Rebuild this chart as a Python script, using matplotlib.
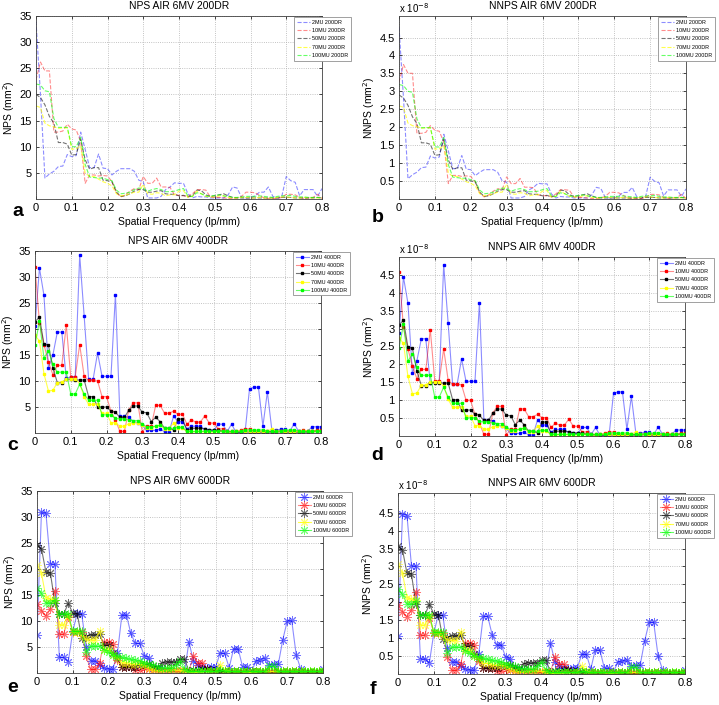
import numpy as np
import matplotlib
matplotlib.use("Agg")
import matplotlib.pyplot as plt

plt.rcParams['font.family'] = ['Liberation Sans', 'DejaVu Sans']

# spatial frequency sampling (lp/mm), 65 samples 0..0.8
freq = np.linspace(0, 0.8, 65)
mu_labels = ["2MU", "10MU", "50MU", "70MU", "100MU"]

# NPS (mm^2), 200DR
a_2mu = [34, 20, 4.0, 4.8, 5.3, 6.2, 6.3, 8.5, 8.1, 8.3, 12.8, 9.5, 6.0,
         6.0, 8.6, 5.9, 5.8, 4.6, 5.3, 5.8, 5.8, 5.8, 5.3, 3.6, 3.3, 0.2,
         0.2, 0.2, 0.5, 1.8, 2.3, 3.1, 3.0, 3.0, 1.0, 0.2, 0.5, 0.4, 0.4,
         0.2, 0.2, 0.2, 0.2, 0.8, 2.3, 2.1, 0.3, 0.2, 0.2, 0.6, 1.3, 1.3,
         2.3, 0.5, 0.2, 0.5, 4.3, 3.5, 3.2, 0.6, 1.8, 1.8, 1.8, 0.5, 2.0]
a_10mu = [22.8, 26.2, 24.5, 24.5, 12.8, 12.8, 13.0, 14.3, 13.4, 13.2, 11.0, 3.0, 4.6,
          4.6, 4.4, 4.5, 4.4, 3.3, 1.2, 0.4, 0.8, 1.5, 2.0, 1.8, 4.3, 3.0,
          3.0, 4.0, 2.3, 2.3, 2.2, 0.8, 0.7, 0.6, 0.5, 1.0, 1.8, 1.8, 1.7,
          0.4, 0.3, 0.3, 0.2, 0.1, 0.1, 0.2, 0.5, 1.3, 1.3, 1.2, 0.7, 0.2,
          0.1, 0.1, 0.1, 0.3, 0.9, 0.9, 0.8, 0.3, 0.1, 0.2, 0.3, 0.9, 0.1]
a_50mu = [20.0, 19.4, 18.0, 15.8, 14.5, 10.8, 10.8, 10.5, 8.4, 8.5, 11.5, 7.5, 5.7,
          6.0, 6.0, 3.6, 3.5, 3.3, 1.3, 0.5, 0.6, 1.0, 1.5, 1.8, 1.8, 1.3,
          1.3, 1.5, 1.6, 1.0, 0.9, 0.9, 0.6, 0.7, 0.4, 0.6, 1.7, 1.6, 0.8,
          0.5, 0.6, 0.8, 1.0, 0.6, 0.3, 0.2, 0.2, 0.2, 0.2, 0.2, 0.2, 0.2,
          0.2, 0.2, 0.2, 0.3, 0.3, 0.3, 0.2, 0.2, 0.2, 0.2, 0.2, 0.3, 0.2]
a_70mu = [17.8, 17.5, 14.5, 14.0, 13.8, 13.5, 13.6, 13.6, 9.5, 9.6, 10.2, 5.0, 4.3,
          4.3, 3.8, 3.3, 3.0, 2.5, 1.0, 0.6, 0.7, 1.0, 1.3, 1.3, 2.8, 1.0,
          0.9, 1.2, 1.1, 0.6, 0.8, 0.8, 1.5, 1.6, 0.3, 0.5, 1.5, 1.0, 0.5,
          0.4, 0.4, 0.6, 0.6, 0.3, 0.2, 0.2, 0.3, 0.3, 0.2, 0.2, 0.3, 0.2,
          0.2, 0.2, 0.3, 0.4, 0.4, 0.3, 0.2, 0.2, 0.3, 0.2, 0.2, 0.2, 0.2]
a_100mu = [22.0, 21.8, 20.7, 20.5, 15.4, 13.7, 13.7, 13.7, 10.0, 10.0, 11.8, 6.6, 4.2,
           4.1, 4.0, 4.0, 3.7, 3.5, 1.7, 1.0, 1.1, 1.3, 1.8, 2.1, 2.0, 1.5,
           1.8, 2.0, 1.8, 1.4, 1.4, 1.5, 1.8, 2.0, 0.6, 0.5, 1.2, 1.0, 0.6,
           0.5, 0.7, 0.8, 0.6, 0.5, 0.3, 0.3, 0.4, 0.5, 0.5, 0.5, 0.6, 0.5,
           0.4, 0.3, 0.5, 0.6, 0.6, 0.7, 0.5, 0.4, 0.4, 0.3, 0.3, 0.3, 0.2]

# NPS (mm^2), 400DR
c_2mu = [20.6, 31.7, 26.5, 12.5, 15.0, 19.4, 19.4, 10.5, 10.8, 10.8, 34.2, 22.5, 10.3,
         10.3, 15.4, 10.9, 10.9, 10.9, 26.6, 3.2, 3.2, 3.0, 2.2, 2.0, 1.5, 0.5,
         0.5, 0.5, 0.8, 0.2, 0.2, 3.2, 2.2, 2.2, 0.8, 1.3, 1.3, 1.3, 0.7,
         0.5, 0.5, 1.7, 1.7, 0.3, 1.7, 0.1, 0.1, 0.1, 8.5, 8.8, 8.8, 1.3,
         7.9, 0.6, 0.6, 0.7, 0.7, 0.3, 1.8, 0.3, 0.3, 0.3, 1.2, 1.2, 1.2]
c_10mu = [32.0, 21.2, 17.0, 13.7, 11.2, 13.0, 13.0, 20.8, 10.8, 10.8, 17.0, 10.9, 10.1,
          10.1, 10.0, 7.0, 7.0, 4.2, 2.5, 0.3, 0.3, 4.5, 5.8, 5.8, 0.2, 1.3,
          1.3, 5.3, 5.3, 3.8, 3.8, 4.2, 3.6, 3.6, 1.7, 2.5, 2.1, 2.1, 3.3,
          1.9, 1.9, 0.8, 0.8, 0.3, 0.3, 0.3, 0.5, 0.8, 0.8, 0.3, 0.3, 0.4,
          0.3, 0.3, 0.4, 0.3, 0.3, 0.3, 0.3, 0.3, 0.5, 0.4, 0.4, 0.5, 0.5]
c_50mu = [21.4, 22.3, 17.1, 16.9, 12.5, 9.7, 9.7, 10.3, 10.3, 10.2, 10.2, 10.2, 7.0,
          7.0, 5.0, 5.0, 5.0, 4.2, 4.0, 3.0, 3.0, 4.4, 5.2, 5.2, 4.0, 3.9,
          2.2, 3.0, 2.2, 0.9, 0.9, 0.6, 2.7, 2.7, 0.5, 0.9, 0.9, 0.9, 0.8,
          0.6, 0.6, 0.5, 0.4, 0.2, 0.2, 0.2, 0.2, 0.3, 0.2, 0.2, 0.2, 0.2,
          0.2, 0.2, 0.2, 0.3, 0.2, 0.2, 0.2, 0.2, 0.2, 0.2, 0.3, 0.3, 0.3]
c_70mu = [18.8, 17.7, 11.4, 8.1, 8.2, 9.7, 9.8, 10.3, 10.4, 10.4, 9.5, 7.0, 5.5,
          5.5, 5.5, 3.8, 3.8, 2.0, 2.0, 1.3, 1.3, 1.8, 2.0, 2.0, 1.5, 1.0,
          1.0, 1.3, 1.5, 0.8, 0.8, 1.9, 1.0, 1.0, 0.2, 0.2, 0.3, 0.3, 0.2,
          0.2, 0.2, 0.3, 0.3, 0.2, 0.2, 0.3, 0.3, 0.4, 0.3, 0.3, 0.3, 0.3,
          0.3, 0.8, 0.3, 0.3, 0.4, 0.3, 0.3, 0.3, 0.4, 0.4, 0.3, 0.3, 0.3]
c_100mu = [16.9, 21.5, 14.4, 15.8, 13.2, 11.7, 11.7, 11.7, 7.5, 7.5, 9.4, 7.5, 6.3,
           6.3, 6.3, 3.5, 3.5, 3.5, 2.8, 2.7, 2.7, 2.5, 2.4, 2.4, 1.7, 1.2,
           1.2, 1.3, 1.5, 1.0, 0.9, 0.9, 1.1, 1.1, 0.3, 0.3, 0.3, 0.3, 0.3,
           0.3, 0.3, 0.3, 0.3, 0.3, 0.3, 0.3, 0.3, 0.5, 0.6, 0.5, 0.6, 0.6,
           0.3, 0.3, 0.3, 0.4, 0.5, 0.6, 0.6, 0.4, 0.3, 0.3, 0.3, 0.3, 0.3]

# NPS (mm^2), 600DR
e_2mu = [7.4, 31.0, 30.7, 21.0, 21.0, 3.0, 3.0, 2.2, 8.0, 11.5, 11.4, 5.0, 2.4,
         2.4, 1.5, 1.0, 0.8, 0.8, 3.8, 11.2, 11.2, 7.6, 5.7, 5.7, 3.3, 2.9,
         1.0, 0.7, 0.7, 0.6, 0.6, 0.5, 0.1, 0.1, 6.0, 2.3, 1.5, 1.2, 1.0,
         1.2, 1.2, 3.9, 3.8, 1.0, 4.7, 4.7, 1.2, 1.2, 0.3, 2.3, 2.5, 2.8,
         1.6, 1.7, 1.7, 6.4, 10.0, 10.1, 3.5, 0.8, 0.2, 0.2, 0.2, 0.2, 0.8]
e_10mu = [13.2, 12.0, 11.0, 12.3, 15.8, 7.5, 7.5, 10.8, 7.9, 7.9, 7.9, 3.3, 0.7,
          0.7, 2.0, 5.9, 6.0, 5.6, 2.5, 1.2, 1.2, 1.2, 0.6, 0.6, 1.0, 0.8,
          0.5, 0.3, 0.3, 0.4, 0.4, 0.3, 0.3, 0.4, 0.4, 3.3, 1.9, 1.9, 0.8,
          0.3, 0.3, 0.3, 0.2, 0.3, 0.3, 0.2, 0.2, 0.3, 0.3, 0.4, 0.4, 0.3,
          0.3, 0.2, 0.2, 0.3, 0.3, 0.4, 0.3, 0.3, 0.2, 0.2, 0.2, 0.2, 0.2]
e_50mu = [24.7, 23.9, 19.4, 19.2, 13.5, 11.4, 11.4, 13.4, 11.5, 11.4, 6.8, 7.0, 7.4,
          7.4, 7.5, 5.3, 5.4, 3.8, 2.8, 1.2, 1.2, 1.2, 1.2, 1.5, 1.5, 1.8,
          1.3, 1.0, 2.0, 2.2, 2.2, 2.2, 2.7, 2.7, 0.4, 0.5, 0.6, 0.8, 0.8,
          0.5, 0.5, 0.3, 0.3, 0.2, 0.2, 0.3, 0.2, 0.2, 0.2, 0.2, 0.2, 0.2,
          0.2, 0.3, 0.2, 0.2, 0.2, 0.2, 0.2, 0.2, 0.2, 0.2, 0.2, 0.2, 0.2]
e_70mu = [20.8, 19.2, 14.5, 14.2, 14.0, 9.3, 9.3, 11.0, 7.8, 7.8, 7.2, 6.5, 6.4,
          6.3, 8.0, 4.5, 4.6, 3.5, 2.9, 2.0, 2.0, 1.8, 1.7, 1.7, 1.5, 1.0,
          0.6, 0.4, 0.4, 0.5, 0.6, 0.6, 0.5, 0.4, 0.2, 0.2, 0.2, 0.3, 0.3,
          0.3, 0.3, 1.5, 0.5, 0.3, 0.3, 0.3, 0.3, 0.2, 0.2, 0.3, 0.3, 0.3,
          0.3, 0.3, 0.3, 0.3, 0.3, 0.3, 0.3, 0.3, 0.3, 0.3, 0.3, 0.3, 0.3]
e_100mu = [16.3, 15.3, 13.5, 13.5, 14.0, 11.3, 11.4, 11.4, 8.0, 8.0, 8.0, 4.0, 5.2,
           5.2, 5.2, 4.5, 4.0, 3.5, 3.3, 3.0, 2.8, 2.6, 2.5, 2.3, 2.0, 1.8,
           1.5, 1.2, 1.0, 1.0, 0.9, 1.5, 2.3, 0.8, 0.3, 0.3, 0.3, 0.3, 0.3,
           0.3, 0.3, 0.5, 0.4, 0.3, 0.3, 0.3, 0.3, 0.3, 0.3, 0.3, 0.3, 0.3,
           1.3, 1.3, 0.3, 0.3, 0.3, 0.3, 0.3, 0.3, 0.3, 0.3, 0.3, 0.3, 0.3]

# NNPS = NPS / mean^2, factors (x1e-8 per mm^2 of NPS)
norm_200 = [0.141, 0.143, 0.145, 0.146, 0.145]
norm_400 = [0.140, 0.143, 0.145, 0.146, 0.145]
norm_600 = [0.144, 0.145, 0.145, 0.147, 0.145]

nps_200 = [a_2mu, a_10mu, a_50mu, a_70mu, a_100mu]
nps_400 = [c_2mu, c_10mu, c_50mu, c_70mu, c_100mu]
nps_600 = [e_2mu, e_10mu, e_50mu, e_70mu, e_100mu]

colors = ['#0000ff', '#ff0000', '#000000', '#ffff00', '#00ff00']
line_alpha = [0.45, 0.45, 0.55, 0.7, 0.6]

W, H = 719, 705
fig = plt.figure(figsize=(W / 100, H / 100), dpi=100)


def add_ax(l, t, r, b):
    return fig.add_axes([l / W, 1 - b / H, (r - l) / W, (b - t) / H])


panels = [
    # (box px, dose rate, data, normalized?, style, letter, letter pos, ylim)
    ((36, 16, 322, 199), "200DR", nps_200, None, 'dash', 'a', (18, 212), 35),
    ((399, 16, 686, 199), "200DR", nps_200, norm_200, 'dash', 'b', (378, 218), 5.1),
    ((35, 251, 321, 433), "400DR", nps_400, None, 'dot', 'c', (13, 446), 35),
    ((399, 257, 685, 436), "400DR", nps_400, norm_400, 'dot', 'd', (377, 455), 5.0),
    ((37, 491, 323, 673), "600DR", nps_600, None, 'star', 'e', (13, 688), 35),
    ((398, 493, 685, 674), "600DR", nps_600, norm_600, 'star', 'f', (373, 690), 5.05),
]

for box, dr, data, norm, style, letter, lpos, ytop in panels:
    ax = add_ax(*box)
    for k in range(5):
        y = np.array(data[k])
        if norm is not None:
            y = y * norm[k]
        lab = f"{mu_labels[k]} {dr}"
        c = colors[k]
        lc = matplotlib.colors.to_rgba(c, line_alpha[k])
        if style == 'dash':
            ax.plot(freq, y, '--', color=lc, lw=0.8, label=lab)
        elif style == 'dot':
            ax.plot(freq, y, '-', color=lc, lw=0.8, marker='s', ms=1.5,
                    mfc=c, mec=c, label=lab)
        else:
            mc = matplotlib.colors.to_rgba(c, 0.55)
            ax.plot(freq, y, '-', color=lc, lw=0.8, marker=(8, 2, 0), ms=6.5,
                    mfc=mc, mec=mc, mew=0.7, label=lab)

    ax.set_xlim(0, 0.8)
    ax.set_ylim(0, ytop)
    xt = np.arange(0, 0.81, 0.1)
    ax.set_xticks(xt)
    ax.set_xticklabels(['%g' % round(v, 1) for v in xt])
    if norm is None:
        yt = np.arange(5, 36, 5)
        ax.set_ylabel("NPS (mm$^2$)", fontsize=7.5, labelpad=2)
        ax.set_title(f"NPS AIR 6MV {dr}", fontsize=7.5, pad=5)
    else:
        yt = np.arange(0.5, 4.6, 0.5)
        ax.set_ylabel("NNPS (mm$^2$)", fontsize=7.5, labelpad=2)
        ax.set_title(f"NNPS AIR 6MV {dr}", fontsize=7.5, pad=5)
        ax.text(0, 1.005, r"x 10$^{-8}$", transform=ax.transAxes,
                fontsize=7, va='bottom', ha='left')
    ax.set_yticks(yt)
    ax.set_yticklabels(['%g' % v for v in yt])
    ax.set_xlabel("Spatial Frequency (lp/mm)", fontsize=7.5, labelpad=3)
    ax.tick_params(direction='in', labelsize=8, length=2, width=0.5,
                   top=True, right=True, pad=3)
    ax.grid(True, linestyle=':', color='#b0b0b0', lw=0.6)
    for s in ax.spines.values():
        s.set_linewidth(0.6)
        s.set_color('#404040')
    leg = ax.legend(loc='upper left', bbox_to_anchor=(0.9, 1.0), fontsize=3.9,
                    handlelength=2.3, handletextpad=0.5, borderpad=0.5,
                    labelspacing=0.6, fancybox=False, framealpha=1,
                    edgecolor='#909090', borderaxespad=0.2)
    leg.get_frame().set_linewidth(0.6)
    fig.text(lpos[0] / W, 1 - lpos[1] / H, letter, fontsize=14,
             fontweight='bold', ha='center', va='center')

fig.savefig("out.png", dpi=100)
